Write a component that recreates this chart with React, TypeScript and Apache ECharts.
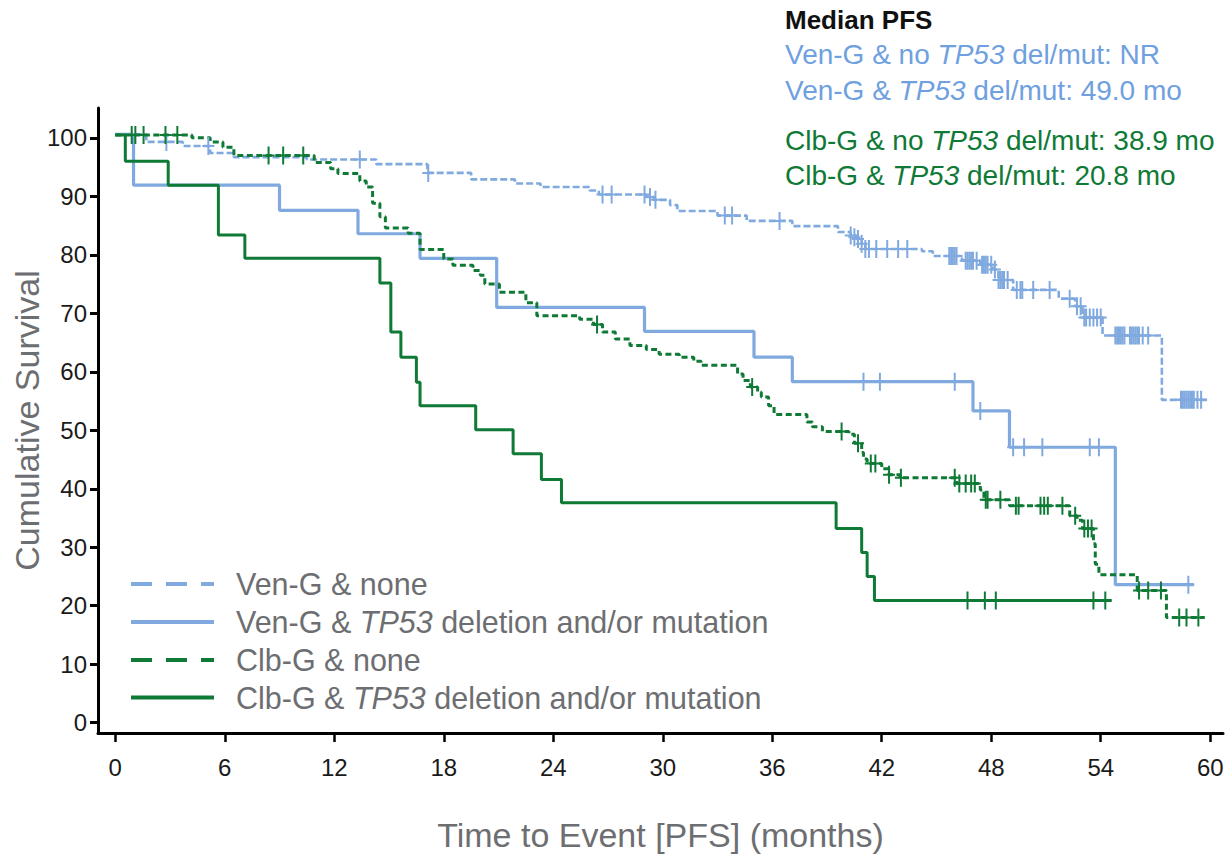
import React, { useEffect, useRef } from "react";
import * as echarts from "echarts";

// ---------- data ----------
const xTicks = [0, 6, 12, 18, 24, 30, 36, 42, 48, 54, 60];
const yTicks = [0, 10, 20, 30, 40, 50, 60, 70, 80, 90, 100];

const seriesNames = [
  "Ven-G & none",
  "Ven-G & TP53 deletion and/or mutation",
  "Clb-G & none",
  "Clb-G & TP53 deletion and/or mutation",
];

// Ven-G & none: [month, survival %] at each step
const venNoneSteps: [number, number][] = [
  [0, 100.6], [1.7, 99.3], [3.7, 98.6], [5.2, 97.4], [6.5, 96.7], [10.5, 96.3],
  [14.3, 95.5], [17.1, 94.0], [19.5, 92.9], [21.9, 92.2], [23.3, 91.6], [26.0, 91.0],
  [26.5, 90.3], [29.1, 89.9], [29.5, 89.4], [30.4, 88.5], [30.8, 87.5], [33.0, 86.7],
  [34.6, 85.8], [37.1, 84.9], [39.6, 83.9], [40.3, 83.3], [40.6, 82.7], [40.9, 81.9],
  [41.1, 81.0], [44.2, 80.6], [44.8, 79.8], [46.4, 79.0], [47.4, 78.3], [48.1, 77.5],
  [48.4, 75.7], [49.2, 74.0], [51.7, 72.5], [52.6, 71.2], [53.0, 69.3], [54.1, 66.2],
  [57.35, 55.2], [59.8, 55.2],
];
const venNoneCensor: [number, number][] = [
  [2.8, 99.3], [5.1, 98.6], [13.4, 96.3], [17.15, 94.0], [26.7, 90.3], [27.2, 90.3],
  [29.0, 90.3], [29.3, 89.9], [29.6, 89.4], [33.4, 86.7], [33.8, 86.7], [36.4, 85.8],
  [40.3, 83.3], [40.5, 83.0], [40.7, 82.7], [40.9, 81.9], [41.1, 81.0], [41.3, 81.0],
  [41.7, 81.0], [42.3, 81.0], [42.9, 81.0], [43.4, 81.0],
  [45.7, 79.8], [45.8, 79.8], [45.9, 79.8], [46.0, 79.8], [46.1, 79.8],
  [46.6, 79.0], [46.7, 79.0], [46.8, 79.0], [46.9, 79.0], [47.0, 79.0], [47.2, 79.0],
  [47.5, 78.3], [47.6, 78.3], [47.7, 78.3], [47.8, 78.3], [48.0, 78.3], [48.2, 77.5],
  [48.4, 75.7], [48.5, 75.7], [48.6, 75.7], [48.7, 75.7], [48.9, 75.7],
  [49.4, 74.0], [49.6, 74.0], [49.7, 74.0], [50.3, 74.0], [51.2, 74.0],
  [52.3, 72.5], [52.7, 71.2], [52.9, 71.2],
  [53.1, 69.3], [53.2, 69.3], [53.4, 69.3], [53.6, 69.3], [53.8, 69.3], [54.0, 69.3],
  [54.8, 66.2], [54.9, 66.2], [55.0, 66.2], [55.1, 66.2], [55.2, 66.2], [55.3, 66.2],
  [55.6, 66.2], [55.7, 66.2], [55.8, 66.2], [55.9, 66.2], [56.0, 66.2], [56.1, 66.2],
  [56.3, 66.2], [56.6, 66.2],
  [58.4, 55.2], [58.5, 55.2], [58.6, 55.2], [58.7, 55.2], [58.8, 55.2], [58.9, 55.2],
  [59.0, 55.2], [59.1, 55.2], [59.3, 55.2], [59.5, 55.2],
];

// Ven-G & TP53 deletion and/or mutation
const venTp53Steps: [number, number][] = [
  [0, 100.6], [1.0, 91.9], [9.0, 87.6], [13.3, 83.6], [16.7, 79.4], [20.9, 71.0],
  [29.0, 66.9], [35.0, 62.5], [37.1, 58.3], [47.0, 53.3], [49.0, 47.1], [54.8, 23.6],
  [59.1, 23.6],
];
const venTp53Censor: [number, number][] = [
  [41.0, 58.3], [41.9, 58.3], [46.0, 58.3], [47.4, 53.3], [49.2, 47.1], [49.8, 47.1],
  [50.8, 47.1], [53.4, 47.1], [53.9, 47.1], [58.8, 23.6],
];

// Clb-G & none
const clbNoneSteps: [number, number][] = [
  [0, 100.5], [4.2, 100.0], [5.2, 99.3], [5.9, 98.4], [6.5, 97.0], [10.9, 95.8],
  [11.8, 94.7], [12.2, 93.9], [13.4, 92.6], [13.75, 91.6], [14.1, 88.8], [14.5, 86.5],
  [14.8, 84.6], [16.05, 83.7], [16.7, 80.9], [18.0, 79.3], [18.5, 78.2], [19.6, 77.3],
  [20.0, 76.5], [20.25, 75.0], [21.05, 73.6], [22.5, 71.8], [23.1, 69.6], [25.45, 69.0],
  [26.2, 68.1], [26.7, 66.8], [27.4, 65.6], [28.2, 64.5], [29.1, 63.8], [29.8, 63.0],
  [30.9, 62.5], [31.7, 61.8], [32.1, 61.1], [34.1, 59.6], [34.4, 58.5], [34.8, 57.4],
  [35.2, 56.5], [35.4, 55.7], [35.8, 54.2], [36.1, 52.7], [37.9, 51.4], [38.2, 50.6],
  [38.75, 49.8], [40.2, 49.3], [40.5, 47.8], [40.9, 46.2], [41.0, 45.1], [41.2, 44.3],
  [42.0, 43.4], [42.4, 42.4], [43.0, 41.9], [46.1, 40.9], [47.4, 39.8], [47.6, 38.1],
  [49.0, 37.1], [52.3, 35.4], [52.7, 34.6], [53.0, 33.2], [53.6, 30.6], [53.7, 27.1],
  [53.9, 25.3], [56.0, 22.6], [57.6, 18.0], [59.7, 18.0],
];
const clbNoneCensor: [number, number][] = [
  [0.9, 100.5], [1.1, 100.5], [1.55, 100.5], [2.75, 100.5], [3.4, 100.5],
  [8.4, 97.0], [9.2, 97.0], [10.3, 97.0], [26.4, 68.1], [34.9, 57.4], [39.8, 49.8],
  [40.7, 47.8], [41.4, 44.3], [41.65, 44.3], [42.4, 42.4], [43.05, 41.9], [46.0, 41.9],
  [46.25, 40.9], [46.6, 40.9], [46.9, 40.9], [47.1, 40.9], [47.7, 38.1], [47.8, 38.1],
  [48.5, 38.1], [49.35, 37.1], [49.5, 37.1], [50.7, 37.1], [50.9, 37.1], [51.1, 37.1],
  [51.9, 37.1], [52.6, 35.4], [53.1, 33.2], [53.3, 33.2], [53.5, 33.2],
  [56.1, 22.6], [56.6, 22.6], [57.3, 22.6], [58.3, 18.0], [58.7, 18.0], [59.35, 18.0],
];

// Clb-G & TP53 deletion and/or mutation
const clbTp53Steps: [number, number][] = [
  [0, 100.5], [0.55, 96.0], [2.9, 91.9], [5.65, 83.4], [7.1, 79.4], [14.5, 75.2],
  [15.1, 66.8], [15.65, 62.5], [16.5, 58.2], [16.7, 54.2], [19.75, 50.1], [21.8, 46.0],
  [23.35, 41.6], [24.45, 37.6], [39.5, 33.2], [40.9, 29.1], [41.2, 25.0], [41.6, 20.9],
  [54.6, 20.9],
];
const clbTp53Censor: [number, number][] = [
  [46.7, 20.9], [47.65, 20.9], [48.25, 20.9], [53.6, 20.9], [54.25, 20.9],
];

const medianTitle = "Median PFS";
const medianLines = [
  { pre: "Ven-G & no ", post: " del/mut: NR", group: "ven" },
  { pre: "Ven-G & ", post: " del/mut: 49.0 mo", group: "ven" },
  { pre: "Clb-G & no ", post: " del/mut: 38.9 mo", group: "clb" },
  { pre: "Clb-G & ", post: " del/mut: 20.8 mo", group: "clb" },
];

// ---------- styles ----------
const FONT = "'Liberation Sans', Arial, sans-serif";
const BLUE = "#80aadf";
const BLUE_TEXT = "#6fa0df";
const GREEN = "#0f7a36";
const GREY = "#6d6e71";
const PLUS = "path://M-1,-9L1,-9L1,9L-1,9Z M-6,-1L6,-1L6,1L-6,1Z";

export default function App() {
  const ref = useRef<HTMLDivElement>(null);

  useEffect(() => {
    if (!ref.current) return;
    const chart = echarts.init(ref.current, null, { renderer: "svg" });

    const lineSeries = (name: string, data: [number, number][], color: string, width: number, type: any, z: number) => ({
      name,
      type: "line",
      data,
      step: "end",
      symbol: "none",
      silent: true,
      z,
      lineStyle: { color, width, type },
    });
    const censorSeries = (data: [number, number][], color: string, z: number) => ({
      type: "scatter",
      data,
      symbol: PLUS,
      symbolSize: [12, 18],
      silent: true,
      z,
      itemStyle: { color, opacity: 1 },
    });

    const medianY = [54, 90, 140.5, 175.5];
    const legendY = [584, 622, 660, 697.5];
    const legendStyles = [
      { color: BLUE, dash: [21, 14] },
      { color: BLUE, dash: null },
      { color: GREEN, dash: [21, 14] },
      { color: GREEN, dash: null },
    ];

    const richFor = (fill: string, size: number) => ({
      n: { fill, fontSize: size, fontFamily: FONT },
      i: { fill, fontSize: size, fontFamily: FONT, fontStyle: "italic" },
    });

    const legendText = (name: string) => {
      const idx = name.indexOf("TP53");
      if (idx < 0) return `{n|${name}}`;
      return `{n|${name.slice(0, idx)}}{i|TP53}{n|${name.slice(idx + 4)}}`;
    };

    const graphic: any[] = [
      {
        type: "text",
        x: 785,
        y: 20,
        silent: true,
        style: {
          text: medianTitle,
          fill: "#111111",
          font: `bold 26px ${FONT}`,
          align: "left",
          verticalAlign: "middle",
        },
      },
      ...medianLines.map((m, k) => ({
        type: "text",
        x: 785,
        y: medianY[k],
        silent: true,
        style: {
          text: `{n|${m.pre}}{i|TP53}{n|${m.post}}`,
          rich: richFor(m.group === "ven" ? BLUE_TEXT : GREEN, 28),
          fill: m.group === "ven" ? BLUE_TEXT : GREEN,
          fontSize: 28,
          fontFamily: FONT,
          align: "left",
          verticalAlign: "middle",
        },
      })),
      ...seriesNames.map((name, k) => ({
        type: "line",
        silent: true,
        shape: { x1: 131, y1: legendY[k], x2: 214, y2: legendY[k] },
        style: {
          stroke: legendStyles[k].color,
          lineWidth: 4,
          lineDash: legendStyles[k].dash || undefined,
        },
      })),
      ...seriesNames.map((name, k) => ({
        type: "text",
        x: 236,
        y: legendY[k],
        silent: true,
        style: {
          text: legendText(name),
          rich: richFor(GREY, 30.5),
          fill: GREY,
          fontSize: 30.5,
          fontFamily: FONT,
          align: "left",
          verticalAlign: "middle",
        },
      })),
    ];

    chart.setOption({
      animation: false,
      backgroundColor: "#ffffff",
      grid: { left: 98, right: 3, top: 108, bottom: 123, containLabel: false, outerBoundsMode: "none" },
      xAxis: {
        type: "value",
        min: -0.947,
        max: 60.7,
        name: "Time to Event [PFS] (months)",
        nameLocation: "middle",
        nameGap: 85,
        nameMoveOverlap: false,
        nameTextStyle: { color: GREY, fontSize: 34, fontFamily: FONT },
        axisLine: { show: true, onZero: false, lineStyle: { color: "#000", width: 3 } },
        axisTick: { show: true, customValues: xTicks, length: 9, lineStyle: { color: "#000", width: 2.5 } },
        axisLabel: { customValues: xTicks, color: "#1a1a1a", fontSize: 24, fontFamily: FONT, margin: 22 },
        splitLine: { show: false },
      },
      yAxis: {
        type: "value",
        min: -1.76,
        max: 105.1,
        name: "Cumulative Survival",
        nameLocation: "middle",
        nameGap: 54,
        nameMoveOverlap: false,
        nameTextStyle: { color: GREY, fontSize: 34, fontFamily: FONT },
        axisLine: { show: true, onZero: false, lineStyle: { color: "#000", width: 3 } },
        axisTick: { show: true, customValues: yTicks, length: 8, lineStyle: { color: "#000", width: 3 } },
        axisLabel: { customValues: yTicks, color: "#1a1a1a", fontSize: 24, fontFamily: FONT, margin: 11 },
        splitLine: { show: false },
      },
      series: [
        lineSeries(seriesNames[1], venTp53Steps, BLUE, 3.2, "solid", 2),
        lineSeries(seriesNames[0], venNoneSteps, BLUE, 2.6, [7, 3], 3),
        lineSeries(seriesNames[3], clbTp53Steps, GREEN, 3, "solid", 4),
        lineSeries(seriesNames[2], clbNoneSteps, GREEN, 3, [6, 3.5], 5),
        censorSeries(venTp53Censor, BLUE, 6),
        censorSeries(venNoneCensor, BLUE, 6),
        censorSeries(clbTp53Censor, GREEN, 7),
        censorSeries(clbNoneCensor, GREEN, 7),
      ],
      graphic,
    });

    return () => chart.dispose();
  }, []);

  return (
    <div
      ref={ref}
      style={{ position: "absolute", left: 0, top: 0, width: 1226, height: 856, background: "#fff" }}
    />
  );
}
